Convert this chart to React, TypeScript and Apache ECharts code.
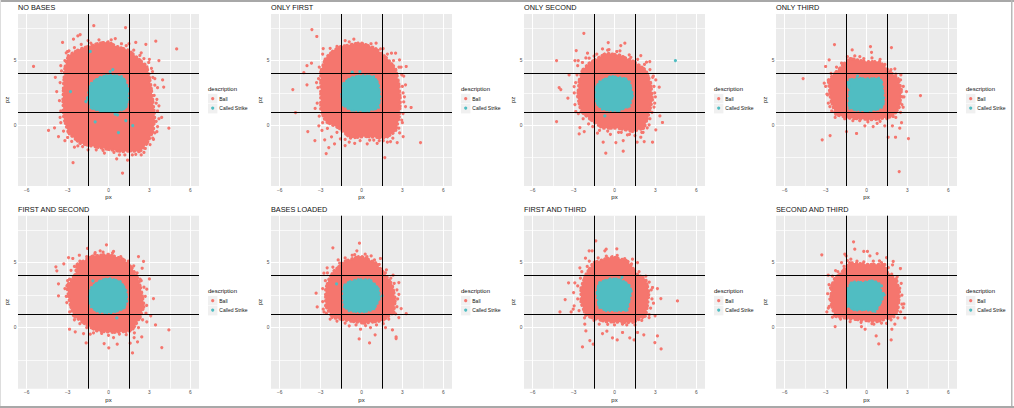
import React, { useEffect, useRef } from "react";
import * as echarts from "echarts";

type Pt = [number, number];

const pxTicks = [-6, -3, 0, 3, 6];
const pzTicks = [0, 5];
const pxMinor = [-4.5, -1.5, 1.5, 4.5];
const pzMinor = [-2.5, 2.5, 7.5];
const zoneX = [-1.5, 1.5];
const zoneZ = [1, 4];
const seriesNames = ["Ball", "Called Strike"];
const panelTitles = ["NO BASES", "ONLY FIRST", "ONLY SECOND", "ONLY THIRD", "FIRST AND SECOND", "BASES LOADED", "FIRST AND THIRD", "SECOND AND THIRD"];

// Dense regions (outlines) and individually visible points.
const noBasesBallBody: Pt[] = [[-0.86,6.3],[-0.4,6.4],[0,6.45],[0.5,6.15],[0.9,6.0],[1.5,5.8],[2.2,5.15],[2.8,4.6],[3.0,3.8],[3.15,2.8],[3.3,1.5],[3.4,0.7],[3.3,-0.4],[2.85,-1.4],[2.3,-2.05],[1.6,-2.0],[1.0,-2.05],[0.1,-1.9],[-1.1,-1.65],[-2.1,-1.4],[-2.95,-0.6],[-3.3,0.6],[-3.35,1.9],[-3.3,3.2],[-3.2,4.5],[-2.95,5.4],[-2.1,5.9],[-1.5,6.1]];
const noBasesStrikeBody: Pt[] = [[-1.3,3.25],[-0.73,3.7],[0,3.92],[0.98,3.8],[1.22,3.5],[1.47,2.85],[1.44,1.96],[1.3,1.3],[0.61,0.98],[-0.61,1.05],[-1.3,1.3],[-1.54,1.96],[-1.47,2.75]];
const noBasesBall: Pt[] = [[-1.08,7.7],[1.25,7.55],[-2.08,7.0],[-2.25,6.9],[-2.57,6.65],[-3.37,6.4],[3.47,6.5],[5.0,5.9],[-5.5,4.55],[2.74,6.26],[2.0,6.4],[-4.4,-0.4],[-3.96,-0.2],[-3.67,-0.88],[-2.6,-2.9],[1.03,-3.7],[0.6,-2.6],[1.4,-2.7],[4.43,-0.23],[3.9,0.6],[3.97,3.5],[4.05,2.95],[3.7,5.0],[3.23,4.15],[-1.5,6.55],[-0.7,6.6],[0.5,6.7],[1.5,6.3],[2.4,5.6],[3.0,5.1],[3.4,3.6],[3.6,2.9],[3.5,1.7],[3.7,1.5],[3.5,0.3],[3.4,-0.6],[3.3,-1.1],[2.6,-2.1],[2.0,-2.25],[1.2,-2.3],[-0.3,-2.15],[-1.5,-1.9],[-2.5,-1.7],[-3.2,-1.2],[-3.5,0.2],[-3.8,2.6],[-3.9,3.7],[-3.5,4.6],[-3.2,5.0],[-3.0,5.7],[-3.1,5.6],[-2.9,5.75],[-2.5,6.0],[-2.0,6.25],[-1.3,6.35],[0.2,6.6],[0.95,6.3],[1.3,6.15],[1.85,5.8],[2.3,5.4],[2.6,5.15],[2.95,4.85],[3.15,4.4],[3.25,3.7],[3.4,3.1],[3.35,2.3],[3.55,2.0],[3.6,1.1],[3.7,0.5],[3.6,-0.1],[3.55,-0.5],[3.25,-1.0],[3.05,-1.5],[2.7,-1.8],[2.4,-2.3],[1.75,-2.3],[0.8,-2.3],[0.4,-2.1],[-0.4,-1.95],[-0.9,-1.9],[-1.9,-1.65],[-2.25,-1.6],[-2.7,-1.25],[-3.0,-0.95],[-3.3,-0.45],[-3.55,0.6],[-3.5,1.1],[-3.6,1.9],[-3.55,3.3],[-3.45,4.2]];
const noBasesStrike: Pt[] = [[-1.34,5.7],[0.12,4.15],[0.32,4.3],[-2.79,2.6],[-1.66,1.83],[-1.54,2.09],[-0.98,0.26],[0.49,0.85],[0.66,0.8],[1.27,0.36],[1.78,-0.03],[0.73,-0.57],[1.3,1.57]];

const onlyFirstBallBody: Pt[] = [[-1.54,6.08],[-0.07,6.39],[1.03,5.95],[1.88,5.18],[2.5,4.4],[2.74,3.25],[2.86,1.96],[2.79,0.67],[2.5,-0.49],[1.76,-1.0],[0.29,-0.88],[-0.81,-1.0],[-1.66,-0.23],[-2.64,0.28],[-3.0,1.18],[-3.0,2.47],[-3.0,4.15],[-2.64,5.2],[-2.0,5.85]];
const onlyFirstStrikeBody: Pt[] = [[-1.34,3.25],[-0.81,3.7],[-0.07,3.87],[0.9,3.82],[1.27,3.25],[1.39,2.22],[1.27,1.31],[0.42,1.05],[-0.81,1.13],[-1.42,1.57],[-1.49,2.47]];
const onlyFirstBall: Pt[] = [[-3.64,7.4],[-3.28,6.86],[-5.04,2.76],[-4.84,0.98],[-3.94,-0.49],[-3.42,-1.19],[-2.4,-1.73],[-2.59,-2.19],[1.71,-2.5],[4.33,-1.34],[3.64,1.37],[3.28,4.54],[2.79,5.05],[-4.23,4.07],[-4.0,4.6],[-3.67,4.8],[-4.0,3.12],[-3.13,-0.05],[-2.7,-1.13],[-1.98,-1.44],[-1.2,-1.57],[-0.56,6.65],[-1.2,6.55],[-0.27,6.26],[1.07,6.34],[0.34,6.16],[1.59,5.93],[-2.81,5.93],[2.2,5.57],[2.5,5.57],[2.74,-0.23],[3.06,-0.88],[2.62,-1.34],[3.23,3.12],[3.15,2.2],[3.23,1.44],[-0.5,-1.4],[0.42,-1.44],[1.15,-1.4],[2.13,-1.26],[-3.3,3.3],[-3.4,1.3],[-2.9,-0.4],[-2.2,-0.9],[-1.2,-1.1],[0.9,-1.15],[1.6,-1.2],[3.0,0.2],[3.1,3.8],[2.9,4.5],[-2.85,5.5],[-2.3,5.95],[-1.8,6.1],[-0.9,6.45],[0.7,6.3],[1.4,5.9],[1.9,5.5],[2.35,5.0],[2.75,4.5],[2.95,3.9],[3.0,3.0],[3.05,2.5],[3.1,1.8],[3.05,0.9],[2.95,0.4],[2.8,-0.6],[2.3,-1.0],[1.9,-1.3],[1.3,-1.2],[0.6,-1.15],[-0.1,-1.2],[-0.9,-1.3],[-1.55,-1.05],[-1.8,-0.55],[-2.5,-0.25],[-2.85,0.2],[-3.1,0.7],[-3.25,1.7],[-3.2,2.9],[-3.15,3.6],[-3.1,4.5]];
const onlyFirstStrike: Pt[] = [[-0.68,4.1],[-0.12,4.15]];

const onlySecondBallBody: Pt[] = [[-1.86,4.8],[-0.64,5.57],[0.34,5.44],[1.44,4.92],[2.3,4.28],[2.67,3.25],[2.79,1.96],[2.54,0.93],[2.18,-0.23],[1.32,-0.49],[0.22,-0.23],[-0.88,-0.23],[-1.74,0.41],[-2.47,1.06],[-2.71,2.22],[-2.59,3.5],[-2.35,4.28]];
const onlySecondStrikeBody: Pt[] = [[-1.12,3.38],[-0.27,3.82],[0.83,3.63],[1.12,3.38],[1.37,2.35],[1.12,1.44],[0.22,1.05],[-0.88,1.18],[-1.37,1.7],[-1.42,2.86]];
const onlySecondBall: Pt[] = [[-2.25,7.11],[-4.25,5.0],[-2.81,5.77],[-2.9,5.0],[-2.66,5.0],[-0.46,6.39],[0.76,6.34],[0.46,6.16],[1.93,5.39],[2.59,4.92],[2.35,4.87],[-4.06,2.91],[-3.94,2.76],[-3.42,2.09],[-4.25,0.28],[-2.54,-0.18],[-2.59,-0.67],[-2.22,-0.49],[-0.64,-2.16],[0.64,-2.01],[-0.83,-1.31],[0.1,-1.34],[0.64,-1.19],[2.79,-1.31],[2.18,-1.26],[1.66,-1.31],[3.03,-0.36],[3.52,0.21],[3.33,0.72],[3.03,3.5],[3.28,2.94],[-1.98,5.57],[-1.86,5.18],[-0.88,5.9],[0.17,5.7],[1.08,5.44],[-3.33,3.89],[-2.96,2.99],[-2.84,1.06],[-1.25,-0.62],[0.95,-0.75],[1.93,-0.93],[2.54,0.03],[-2.1,0.8],[-1.3,5.5],[-0.4,5.85],[-1.6,-0.1],[-0.3,-0.7],[0.5,-0.55],[1.5,-0.8],[2.1,-0.55],[2.9,1.4],[2.95,2.5],[2.85,3.8],[-2.7,4.6],[-2.35,4.85],[-2.1,5.2],[-1.5,5.35],[-0.5,5.8],[0.4,5.75],[1.2,5.25],[1.7,5.1],[2.2,4.7],[2.6,4.3],[2.8,3.7],[2.9,3.0],[3.0,2.2],[2.95,1.7],[2.75,1.0],[2.6,0.5],[2.4,-0.2],[2.0,-0.55],[1.1,-0.7],[0.3,-0.55],[-0.5,-0.45],[-1.1,-0.4],[-1.9,0.1],[-2.3,0.5],[-2.65,0.9],[-2.9,1.6],[-2.95,2.5],[-2.85,3.3],[-2.75,3.9]];
const onlySecondStrike: Pt[] = [[4.47,5.0],[-0.71,0.72]];

const onlyThirdBallBody: Pt[] = [[-1.96,4.41],[-1.27,5.18],[0,4.92],[0.98,4.92],[1.71,4.15],[2.32,3.63],[2.57,2.73],[2.44,1.44],[1.96,0.67],[0.49,0.41],[-1.22,0.54],[-2.25,0.8],[-2.64,1.96],[-2.81,3.5]];
const onlyThirdStrikeBody: Pt[] = [[-1.42,3.3],[-1.25,3.55],[-0.6,3.65],[0.3,3.62],[0.95,3.68],[1.15,3.4],[1.22,2.7],[1.3,2.0],[1.22,1.4],[0.8,1.2],[0.1,1.05],[-0.8,1.15],[-1.3,1.3],[-1.32,2.0],[-1.25,2.7]];
const onlyThirdBall: Pt[] = [[-2.35,6.24],[0.29,6.08],[1.83,6.0],[-1.05,5.82],[-2.74,5.05],[-3.0,4.54],[-4.65,3.61],[3.96,2.29],[-3.25,-1.13],[-2.67,-0.8],[-1.47,-0.49],[-0.73,-0.64],[1.59,-0.93],[2.13,-0.93],[3.08,-1.03],[2.4,-3.58],[-0.12,-0.05],[0.49,-0.1],[1.34,-0.05],[1.9,-0.05],[2.57,0.2],[2.44,-0.23],[2.08,4.36],[2.52,3.89],[2.93,2.6],[2.64,2.2],[2.69,1.39],[-3.1,3.25],[-2.86,2.35],[-2.69,1.44],[-2.2,4.15],[-1.83,4.8],[-0.86,5.36],[0.37,5.64],[-0.49,5.31],[0.78,0.15],[-2.6,4.0],[-2.2,4.5],[-1.75,4.75],[-1.4,5.3],[-0.9,5.1],[-0.2,5.15],[0.4,5.2],[1.0,5.1],[1.35,4.7],[1.8,4.3],[2.15,3.95],[2.5,3.5],[2.7,3.0],[2.75,2.2],[2.6,1.6],[2.5,1.0],[2.15,0.6],[1.5,0.5],[1.0,0.3],[0.1,0.25],[-0.5,0.35],[-1.0,0.35],[-1.6,0.5],[-2.3,0.6],[-2.55,1.1],[-2.8,1.7],[-2.9,2.4],[-3.0,3.0]];
const onlyThirdStrike: Pt[] = [[-0.66,3.8],[-1.3,3.05]];

const firstSecondBallBody: Pt[] = [[-2.31,4.87],[-1.15,5.51],[0,5.64],[1.1,5.26],[1.71,4.62],[2.2,3.72],[2.44,2.69],[2.62,1.67],[2.32,0.77],[1.71,-0.26],[0.37,-0.38],[-0.86,-0.26],[-1.71,0.26],[-2.57,0.9],[-2.86,1.92],[-3.06,3.21],[-2.44,4.1]];
const firstSecondStrikeBody: Pt[] = [[-1.3,3.08],[-0.73,3.59],[0,3.82],[0.86,3.59],[1.3,2.95],[1.39,2.05],[1.1,1.41],[0.24,1.1],[-0.73,1.15],[-1.3,1.54],[-1.47,2.31]];
const firstSecondBall: Pt[] = [[-0.15,6.36],[-1.54,6.08],[-2.14,5.56],[-3.86,4.67],[-3.79,4.36],[-3.28,4.9],[-3.67,3.36],[-3.67,2.44],[2.57,5.08],[2.2,5.46],[2.47,4.56],[3.0,3.74],[3.3,2.23],[4.43,-0.18],[3.91,-1.54],[1.76,-1.95],[3.45,0.2],[3.1,0.9],[2.44,-0.72],[2.13,-1.1],[1.59,-1.2],[0.64,-1.28],[0.02,-1.56],[-0.32,-1.23],[-1.64,-1.18],[-2.86,-0.13],[-2.44,-0.33],[-1.83,-0.46],[2.81,0.44],[1.88,-0.77],[0.37,-0.77],[-1.34,-0.51],[0.37,5.85],[-0.98,5.77],[-0.61,5.9],[-2.93,5.38],[-2.62,5.31],[-2.86,3.72],[-3.06,1.92],[2.32,3.72],[2.81,2.95],[-2.75,4.4],[-2.5,4.7],[-2.1,5.1],[-1.6,5.45],[-1.0,5.65],[-0.4,5.8],[0.3,5.75],[0.9,5.45],[1.45,5.1],[1.85,4.75],[2.1,4.2],[2.4,3.6],[2.6,3.1],[2.7,2.4],[2.8,1.7],[2.75,1.1],[2.5,0.6],[2.2,0.0],[1.9,-0.4],[1.3,-0.55],[0.8,-0.5],[0.0,-0.6],[-0.5,-0.45],[-1.1,-0.4],[-1.6,0.0],[-2.1,0.3],[-2.5,0.6],[-2.85,1.2],[-3.1,2.4],[-3.2,3.0],[-3.0,3.6]];
const firstSecondStrike: Pt[] = [[-1.15,3.59],[0.61,0.74],[1.15,1.54]];

const basesLoadedBallBody: Pt[] = [[-2.03,4.36],[-1.17,5.13],[-0.07,5.51],[1.03,5.0],[1.64,4.23],[2.25,3.33],[2.49,2.18],[2.37,1.15],[1.52,0.51],[0.17,0.33],[-0.93,0.51],[-2.15,0.77],[-2.64,1.67],[-2.64,2.95],[-2.4,3.72]];
const basesLoadedStrikeBody: Pt[] = [[-1.25,3.3],[-0.9,3.55],[-0.3,3.72],[0.65,3.7],[1.05,3.3],[1.3,2.95],[1.35,2.2],[1.1,1.7],[0.9,1.35],[0.1,1.15],[-0.9,1.25],[-1.3,1.6],[-1.35,2.3],[-1.35,2.9]];
const basesLoadedBall: Pt[] = [[-2.1,6.13],[-0.15,6.49],[-0.34,5.9],[0.27,5.64],[-0.68,5.56],[0.71,5.51],[1.39,5.31],[-1.71,5.2],[-2.52,4.59],[-2.76,4.18],[1.83,4.44],[-3.33,2.64],[-3.25,1.59],[-2.81,1.41],[-2.57,1.1],[2.74,3.46],[2.32,4.03],[2.91,1.46],[3.28,1.08],[2.74,0.77],[2.27,-0.18],[2.54,-0.72],[2.54,-0.85],[1.0,-0.56],[-0.17,-0.87],[0.59,-1.18],[-0.07,-0.13],[-0.9,0.13],[1.76,0],[2.74,2.56],[0.66,0],[-1.54,4.74],[-2.27,3.72],[-2.5,4.2],[-2.1,4.65],[-1.6,4.95],[-1.2,5.35],[-0.5,5.6],[0.4,5.45],[0.95,5.2],[1.3,4.85],[1.75,4.2],[2.15,3.8],[2.4,3.4],[2.6,2.9],[2.65,2.2],[2.6,1.6],[2.5,1.05],[2.0,0.65],[1.6,0.3],[1.1,0.2],[0.3,0.15],[-0.4,0.2],[-1.2,0.35],[-1.8,0.5],[-2.3,0.65],[-2.75,1.2],[-2.85,2.0],[-2.85,3.0],[-2.65,3.6]];
const basesLoadedStrike: Pt[] = [[-1.83,3.36],[1.52,2.44],[-1.25,3.08]];

const firstThirdBallBody: Pt[] = [[-2.1,4.1],[-1.56,5.0],[-0.15,5.46],[0.95,5.13],[1.69,4.1],[2.3,3.72],[2.54,2.69],[2.42,1.67],[2.3,0.9],[1.32,0.38],[-0.64,0.44],[-2.1,0.9],[-2.47,1.92],[-2.47,3.08]];
const firstThirdStrikeBody: Pt[] = [[-1.32,2.69],[-1.17,3.46],[-0.39,3.77],[0.34,3.77],[1.08,3.33],[1.27,2.82],[1.08,1.92],[0.95,1.28],[-0.64,1.28],[-1.17,1.54]];
const firstThirdBall: Pt[] = [[-1.37,6.67],[0.17,6.05],[-0.61,6.03],[-0.71,5.9],[-1.86,5.9],[-1.64,5.9],[-2.13,5.33],[-2.54,4.59],[-3.37,3.44],[-2.91,3.44],[-3.0,2.69],[-3.62,2.15],[-2.96,1.67],[-3.03,1.41],[-4.0,1.2],[-3.18,1.2],[3.15,3.0],[3.4,2.23],[4.62,2.05],[2.86,1.87],[2.98,0.9],[3.15,-0.64],[2.96,-1.15],[3.42,-1.64],[2.15,-0.56],[1.44,-0.95],[1.12,-0.79],[0.2,-0.95],[-0.15,-0.79],[-0.56,-0.28],[-0.88,-0.46],[-1.56,-1.28],[-1.81,-1.0],[-2.35,-1.49],[-2.1,-0.26],[-2.18,0.26],[0.59,-0.38],[1.69,-0.38],[1.69,5],[1.32,5.26],[2.25,3.2],[2.79,3.08],[2.54,0.77],[-1.12,0.26],[0.59,0.26],[-2.4,4.3],[-2.0,4.7],[-1.85,5.1],[-1.2,5.35],[-0.6,5.5],[0.2,5.55],[0.75,5.3],[1.25,4.9],[1.8,4.3],[2.3,3.95],[2.55,3.5],[2.7,2.9],[2.75,2.2],[2.65,1.5],[2.55,1.0],[2.0,0.55],[1.5,0.2],[0.9,0.2],[0.0,0.2],[-0.5,0.25],[-1.5,0.55],[-2.2,0.75],[-2.6,1.3],[-2.7,2.2],[-2.7,3.2],[-2.5,3.8]];
const firstThirdStrike: Pt[] = [[0.55,3.85]];

const secondThirdBallBody: Pt[] = [[-1.96,4.1],[-1.22,5.0],[0,4.87],[1.34,4.87],[1.59,4.1],[2.2,3.72],[2.44,2.69],[2.32,1.41],[2.08,0.85],[0.73,0.44],[-0.98,0.64],[-2.32,0.85],[-2.64,1.92],[-2.57,3.21],[-2.32,3.85]];
const secondThirdStrikeBody: Pt[] = [[-1.4,3.0],[-1.1,3.55],[-0.3,3.5],[0.5,3.65],[0.95,3.4],[1.1,2.8],[1.35,2.55],[1.1,2.0],[0.85,1.5],[0.65,1.2],[-0.1,1.35],[-0.85,1.3],[-1.4,1.6],[-1.45,2.4]];
const secondThirdBall: Pt[] = [[-0.95,6.59],[-0.86,6.03],[-3.28,5.59],[-1.59,5.64],[-0.2,5.85],[0.07,5.85],[0.78,5.69],[1.47,5.38],[1.96,5.08],[1.91,4.82],[2.49,4.54],[-1.83,5.0],[-2.27,4.38],[-2.81,4.03],[-2.64,3.05],[-2.69,2.18],[-2.91,1.2],[-2.74,1.62],[-2.3,0.08],[2.74,1.82],[2.81,0.74],[2.44,3.03],[2.69,1.54],[1.86,-0.13],[1.81,-0.95],[0.9,-1.26],[0.71,-0.64],[-0.1,-0.13],[-0.37,0.08],[0.54,0.26],[1.47,0.33],[2.08,0.26],[-1.49,5.51],[-1.15,5.26],[0.25,5.51],[0.95,5.13],[-2.5,3.95],[-2.1,4.3],[-1.65,4.7],[-1.4,5.15],[-0.7,5.1],[-0.2,5.05],[0.5,5.1],[1.1,5.0],[1.6,4.6],[1.85,4.1],[2.25,3.9],[2.55,3.4],[2.6,2.5],[2.6,1.8],[2.5,1.2],[2.3,0.75],[1.8,0.6],[1.1,0.35],[0.4,0.3],[-0.4,0.4],[-1.2,0.45],[-1.9,0.65],[-2.5,0.8],[-2.8,1.5],[-2.85,2.6],[-2.75,3.3]];
const secondThirdStrike: Pt[] = [[1.1,3.2]];

const ballBodies = [noBasesBallBody, onlyFirstBallBody, onlySecondBallBody, onlyThirdBallBody, firstSecondBallBody, basesLoadedBallBody, firstThirdBallBody, secondThirdBallBody];
const strikeBodies = [noBasesStrikeBody, onlyFirstStrikeBody, onlySecondStrikeBody, onlyThirdStrikeBody, firstSecondStrikeBody, basesLoadedStrikeBody, firstThirdStrikeBody, secondThirdStrikeBody];
const ballPoints = [noBasesBall, onlyFirstBall, onlySecondBall, onlyThirdBall, firstSecondBall, basesLoadedBall, firstThirdBall, secondThirdBall];
const strikePoints = [noBasesStrike, onlyFirstStrike, onlySecondStrike, onlyThirdStrike, firstSecondStrike, basesLoadedStrike, firstThirdStrike, secondThirdStrike];

const BALL = "#F5766E";
const STRIKE = "#50BDC2";
const FONT = "Liberation Sans";
const panelLefts = [18, 271, 524, 776];
const panelWidth = 181;
const rowTops = [14, 215.7];
const panelHeights = [172, 173];
const titleTops = [3.5, 206];
const legendTops = [85, 287];

function buildOption() {
  const grid: any[] = [], xAxis: any[] = [], yAxis: any[] = [], series: any[] = [];
  const title: any[] = [], legend: any[] = [], graphic: any[] = [];

  panelTitles.forEach((name, i) => {
    const row = i < 4 ? 0 : 1;
    const left = panelLefts[i % 4];
    const top = rowTops[row];
    const h = panelHeights[row];
    grid.push({ left, top, width: panelWidth, height: h, show: true, backgroundColor: "#EBEBEB", borderWidth: 0, containLabel: false });
    xAxis.push({
      type: "value", gridIndex: i, min: -6.64, max: 6.64, name: "px", nameLocation: "middle", nameGap: 8,
      nameTextStyle: { fontFamily: FONT, fontSize: 6, color: "#111" },
      axisLine: { show: false }, splitLine: { show: false },
      axisTick: { show: true, length: 2, customValues: pxTicks, lineStyle: { color: "#333", width: 0.7 } },
      axisLabel: { show: true, customValues: pxTicks, fontFamily: FONT, fontSize: 4.8, color: "#4D4D4D", margin: 1.5, formatter: (v: number) => (v < 0 ? "\u2212" + -v : String(v)) },
    });
    yAxis.push({
      type: "value", gridIndex: i, min: -4.7, max: 8.6, name: "pz", nameLocation: "middle", nameGap: 8,
      nameTextStyle: { fontFamily: FONT, fontSize: 6, color: "#111" },
      axisLine: { show: false }, splitLine: { show: false },
      axisTick: { show: true, length: 2, customValues: pzTicks, lineStyle: { color: "#333", width: 0.7 } },
      axisLabel: { show: true, customValues: pzTicks, fontFamily: FONT, fontSize: 4.8, color: "#4D4D4D", margin: 1.5 },
    });
    title.push({ text: name, left, top: titleTops[row], padding: 0, textStyle: { fontFamily: FONT, fontSize: 7.3, fontWeight: "normal", color: "#111" } });

    const gridLine = (values: number[], key: "xAxis" | "yAxis", width: number) =>
      values.map((v) => ({ [key]: v, lineStyle: { color: "#fff", width, type: "solid" } }));
    series.push({
      type: "scatter", xAxisIndex: i, yAxisIndex: i, data: [], z: 1, silent: true,
      markLine: {
        z: 1, silent: true, symbol: "none", label: { show: false }, animation: false,
        data: [...gridLine(pxTicks, "xAxis", 1), ...gridLine(pxMinor, "xAxis", 0.7), ...gridLine(pzTicks, "yAxis", 1), ...gridLine(pzMinor, "yAxis", 0.7)],
      },
    });

    const body = (outline: Pt[], color: string, seriesName: string, z: number, edge: number) => ({
      type: "custom", name: seriesName, xAxisIndex: i, yAxisIndex: i, z, silent: true, clip: true,
      data: outline,
      itemStyle: { color },
      renderItem: (p: any, api: any) =>
        p.dataIndex !== 0 ? null : {
          type: "polygon",
          shape: { points: outline.map((q) => api.coord(q)) },
          style: { fill: color, stroke: color, lineWidth: edge, lineDash: [0.6, 3.2, 0.6, 1.9, 0.6, 4.1], lineCap: "round", lineJoin: "round" },
        },
    });
    const dots = (points: Pt[], color: string, seriesName: string, z: number) => ({
      type: "scatter", name: seriesName, xAxisIndex: i, yAxisIndex: i, z, silent: true,
      data: points, symbol: "circle", symbolSize: 3.2, itemStyle: { color, opacity: 1 },
    });
    series.push(dots(ballPoints[i], BALL, seriesNames[0], 2));
    series.push(body(ballBodies[i], BALL, seriesNames[0], 2, 3));
    series.push(dots(strikePoints[i], STRIKE, seriesNames[1], 3));
    series.push(body(strikeBodies[i], STRIKE, seriesNames[1], 3, 2));
    series.push({
      type: "scatter", xAxisIndex: i, yAxisIndex: i, data: [], z: 6, silent: true,
      markLine: {
        z: 6, silent: true, symbol: "none", label: { show: false }, animation: false,
        lineStyle: { color: "#000", width: 1, type: "solid" },
        data: [...zoneX.map((v) => ({ xAxis: v })), ...zoneZ.map((v) => ({ yAxis: v }))],
      },
    });

    const lx = left + panelWidth + 9;
    const ly = legendTops[row];
    graphic.push({ type: "text", x: lx, y: ly + 1, z: 5, style: { text: "description", fontFamily: FONT, fontSize: 6, fill: "#111" } });
    graphic.push({ type: "rect", x: lx, y: ly + 9, z: 0, shape: { width: 9.4, height: 9.4 }, style: { fill: "#F0F0F0" } });
    graphic.push({ type: "rect", x: lx, y: ly + 19, z: 0, shape: { width: 9.4, height: 9.4 }, style: { fill: "#F0F0F0" } });
    legend.push({
      data: seriesNames, orient: "vertical", left: lx + 3.1, top: ly + 11.2, padding: 0, itemWidth: 3.2, itemHeight: 3.2, itemGap: 4.4,
      icon: "circle", selectedMode: false, z: 6,
      textStyle: { fontFamily: FONT, fontSize: 5, color: "#111" },
    });
  });

  graphic.push({ type: "rect", x: 0, y: 0, z: 9, shape: { width: 1014, height: 2 }, style: { fill: "#A8A8A8" } });
  graphic.push({ type: "rect", x: 0, y: 0, z: 9, shape: { width: 1, height: 408 }, style: { fill: "#DDDDDD" } });
  graphic.push({ type: "rect", x: 1011, y: 0, z: 9, shape: { width: 1.5, height: 408 }, style: { fill: "#B8B8B8" } });
  graphic.push({ type: "rect", x: 0, y: 406, z: 9, shape: { width: 1014, height: 2 }, style: { fill: "#A8A8A8" } });

  return { animation: false, backgroundColor: "#fff", tooltip: { show: false }, title, legend, grid, xAxis, yAxis, series, graphic };
}

export default function App() {
  const ref = useRef<HTMLDivElement>(null);
  useEffect(() => {
    const chart = echarts.init(ref.current as HTMLDivElement, undefined, { renderer: "svg" });
    chart.setOption(buildOption() as any);
    return () => chart.dispose();
  }, []);
  return <div ref={ref} style={{ position: "absolute", left: 0, top: 0, width: 1014, height: 408 }} />;
}
